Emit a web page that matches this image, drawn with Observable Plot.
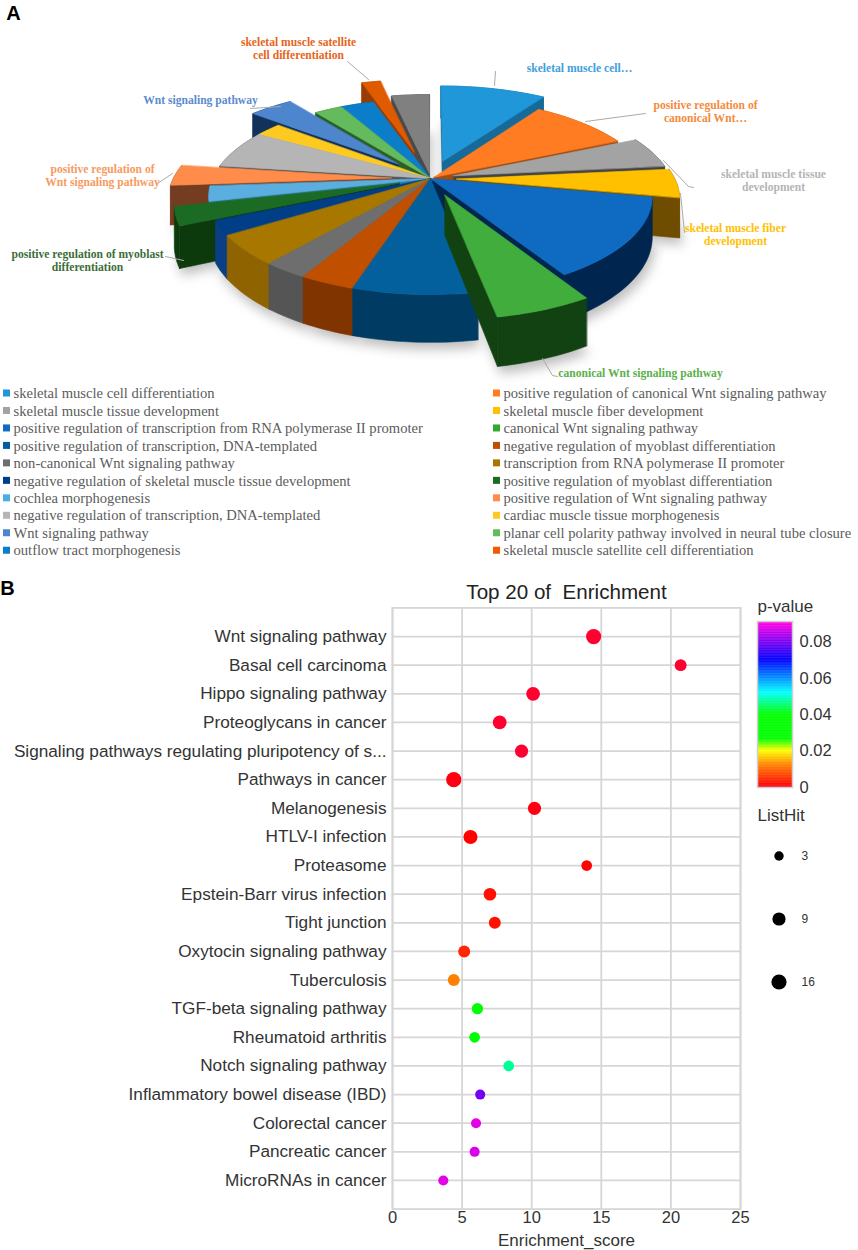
<!DOCTYPE html>
<html><head><meta charset="utf-8">
<script src="https://cdn.jsdelivr.net/npm/d3@7"></script>
<script src="https://cdn.jsdelivr.net/npm/@observablehq/plot@0.6"></script>
<style>
html,body{margin:0;padding:0;background:#fff}
#page{position:relative;width:858px;height:1250px;overflow:hidden}
#page svg{position:absolute;background:transparent;overflow:visible}
</style></head><body><div id="page"></div>
<script>
// ---------- Panel A data ----------
const sliceNames = [
 "skeletal muscle cell differentiation","positive regulation of canonical Wnt signaling pathway",
 "skeletal muscle tissue development","skeletal muscle fiber development",
 "positive regulation of transcription from RNA polymerase II promoter","canonical Wnt signaling pathway",
 "positive regulation of transcription, DNA-templated","negative regulation of myoblast differentiation",
 "non-canonical Wnt signaling pathway","transcription from RNA polymerase II promoter",
 "negative regulation of skeletal muscle tissue development","positive regulation of myoblast differentiation",
 "cochlea morphogenesis","positive regulation of Wnt signaling pathway",
 "negative regulation of transcription, DNA-templated","cardiac muscle tissue morphogenesis",
 "Wnt signaling pathway","planar cell polarity pathway involved in neural tube closure",
 "outflow tract morphogenesis","skeletal muscle satellite cell differentiation","(unlabelled)"];
const sliceShares = [9.4,8.8,5.1,4.7,13.3,5.8,7.6,3.4,2.8,4.9,2.4,3.0,2.5,3.4,6.3,2.3,3.9,2.4,2.9,1.7,3.3];
const sliceExplode = [.2,.02,.11,.12,0,.18,0,0,0,0,0,.15,0,.18,0,0,.22,0,0,.3,.06];
const paintOrder = [0,20,19,18,17,16,15,1,14,2,13,3,12,11,10,4,9,8,7,6,5];
const topColors = ["#1f97d9","#ff7c22","#a3a3a3","#ffc000","#0f6bc2","#41ad3c","#03609c","#c04f00","#6e6e6e","#a87700","#003f88","#1c6b24","#5aaee0","#ff8c4a","#b5b5b5","#ffca1f","#4d86cc","#63bb5e","#0b7dc9","#e05a00","#808080"];
const wallColors = ["#156a99","#a04d10","#444444","#6e4d00","#00264f","#124212","#003b63","#803400","#555555","#8e6300","#0a3f85","#0c3a0c","#2f7fb0","#743c20","#555555","#8a6d00","#12325c","#2a5f28","#054a7a","#9a3c00","#4a4a4a"];
const legendColors = ["#1f97d9","#ff7c22","#a3a3a3","#ffc000","#0f6bc2","#2faa2f","#03609c","#c04f00","#6e6e6e","#a87700","#003f88","#1c6b24","#4aaee0","#ff8c4a","#b5b5b5","#ffca1f","#4d86cc","#63bb5e","#0b7dc9","#f05a00"];

const callouts = [
 {t:"skeletal muscle satellite\ncell differentiation",c:"#e8641a",x:298,y:47.5,l:[[347,61],[368,79]]},
 {t:"skeletal muscle cell…",c:"#3ea0dd",x:579,y:67,l:[[495,71],[494,85]]},
 {t:"positive regulation of\ncanonical Wnt…",c:"#f58a3c",x:705,y:110.5,l:[[645,113],[585,121]]},
 {t:"skeletal muscle tissue\ndevelopment",c:"#b5b5b5",x:773,y:179.5,l:[[693,187],[688,186],[663,160]]},
 {t:"skeletal muscle fiber\ndevelopment",c:"#ffc000",x:735,y:233.5,l:[[684,232],[680,193]]},
 {t:"canonical Wnt signaling pathway",c:"#5ab04a",x:640,y:372,l:[[557,376],[552,375],[542,358]]},
 {t:"Wnt signaling pathway",c:"#5b8bcf",x:200,y:99,l:[[250,108],[280,106]]},
 {t:"positive regulation of\nWnt signaling pathway",c:"#f79a5e",x:102,y:174.5,l:[[157,183],[172,173]]},
 {t:"positive regulation of myoblast\ndifferentiation",c:"#3c6e38",x:87,y:259.5,l:[[165,256],[183,260]]}
];

// ---------- Panel B data ----------
const terms = ["Wnt signaling pathway","Basal cell carcinoma","Hippo signaling pathway","Proteoglycans in cancer","Signaling pathways regulating pluripotency of s...","Pathways in cancer","Melanogenesis","HTLV-I infection","Proteasome","Epstein-Barr virus infection","Tight junction","Oxytocin signaling pathway","Tuberculosis","TGF-beta signaling pathway","Rheumatoid arthritis","Notch signaling pathway","Inflammatory bowel disease (IBD)","Colorectal cancer","Pancreatic cancer","MicroRNAs in cancer"];
const enrichment = [14.45,20.7,10.1,7.7,9.27,4.4,10.2,5.6,13.95,7,7.35,5.15,4.4,6.1,5.9,8.35,6.3,6,5.9,3.65];
const pValues = [0,0,0,0,0,.0004,.0004,.0008,.001,.002,.002,.004,.012,.03,.036,.047,.079,.088,.087,.088];
const listHits = [16,7,11,11,9,16,9,12,5,8,7,7,7,6,5,5,4,4,4,4];
const xTicks = [0,5,10,15,20,25];
const pTicks = [0,.02,.04,.06,.08];
const hitLegend = [3,9,16];

const colorScale = {type:"linear",domain:[0,.0006,.012,.02,.0265,.04,.052,.07,.09],
  range:["#ff0030","#ff0000","#ff8000","#ffff00","#00ff00","#00ff00","#00ffff","#0000ff","#ff00e6"],clamp:true};
const rScale = {type:"linear",domain:[3,9,16],range:[4.7,6.6,7.6]};
const sans = "Liberation Sans, Arial, sans-serif", serif = "Liberation Serif, Times New Roman, serif";
const page = document.getElementById("page");
function place(el,left,top){el.style.left=left+"px";el.style.top=top+"px";page.appendChild(el);}

// ---------- Pie geometry: slice angles come from the shares ----------
const C={x:430,y:178,R:218,Ry:94.7,p:.184,h:39};
const rad=d=>d*Math.PI/180;
function proj(u,v,down){const k=1/(1-C.p*v);return {x:C.x+C.R*u*k,y:C.y+C.Ry*v*k+(down?C.h*k:0)};}
const total=d3.sum(sliceShares);
let acc=0;
const slices=sliceShares.map((s,i)=>{
  const a0=acc/total*360;acc+=s;const a1=acc/total*360,m=(a0+a1)/2,e=sliceExplode[i],c=-Math.cos(rad(m));
  return {i,a0,a1,m,e,ou:e*Math.sin(rad(m)),ov:e*c};
});
function arc(s){const n=Math.max(3,Math.ceil((s.a1-s.a0)/1.5));
  return d3.range(n+1).map(j=>{const a=rad(s.a0+(s.a1-s.a0)*j/n);return [s.ou+Math.sin(a),s.ov-Math.cos(a)];});}
const pieMarks=[], shadow=[];
const poly=(pts,fill)=>Plot.line(pts,{x:"x",y:"y",fill,stroke:fill,strokeWidth:.6,curve:"linear-closed"});
// a cut face shows only when the slice's top lies above that edge on screen
function faces(tip,corner,inner){
  const [l,r]=tip.x<corner.x?[tip,corner]:[corner,tip];
  if(r.x===l.x) return true;
  return inner.y < l.y+(r.y-l.y)/(r.x-l.x)*(inner.x-l.x);
}
paintOrder.map(i=>slices[i]).forEach(s=>{
  const A=arc(s),tip=[s.ou,s.ov];
  const T=([u,v])=>proj(u,v,false),B=([u,v])=>proj(u,v,true);
  const first=A[0],last=A[A.length-1],mid=T(A[Math.floor(A.length/2)]);
  if(faces(T(tip),T(first),mid)) pieMarks.push(poly([T(tip),T(first),B(first),B(tip)],wallColors[s.i]));
  if(faces(T(tip),T(last),mid)) pieMarks.push(poly([T(tip),T(last),B(last),B(tip)],wallColors[s.i]));
  pieMarks.push(poly([...A.map(T),...A.slice().reverse().map(B)],wallColors[s.i]));
  pieMarks.push(poly([T(tip),...A.map(T)],topColors[s.i]));
  shadow.push(Plot.line([...A.map(B).map(p=>({x:p.x+3,y:p.y+7})),B(tip)],{x:"x",y:"y",fill:"#bdbdbd",imageFilter:"blur(6px)",curve:"linear-closed"}));
});

const legendRows=sliceNames.slice(0,20).map((name,i)=>({name,color:legendColors[i],
  x:i%2?493:3,y:393+Math.floor(i/2)*17.47}));
const leaders=callouts.flatMap((c,i)=>c.l.map(([x,y])=>({x,y,i})));

// ---------- Panel A plot ----------
const plotA=Plot.plot({width:858,height:580,margin:0,
  x:{domain:[0,858],range:[0,858],axis:null},y:{domain:[0,580],range:[0,580],axis:null},
  marks:[
    ...shadow,...pieMarks,
    Plot.line(leaders,{x:"x",y:"y",z:"i",stroke:"#aaaaaa",strokeWidth:1}),
    Plot.text(callouts,{x:"x",y:"y",text:"t",fill:"c",fontFamily:serif,fontWeight:"bold",fontSize:11.6,lineHeight:1.12,stroke:"none"}),
    Plot.rect(legendRows,{x1:"x",x2:d=>d.x+7,y1:d=>d.y-3.5,y2:d=>d.y+3.5,fill:"color"}),
    Plot.text(legendRows,{x:d=>d.x+10,y:"y",text:"name",textAnchor:"start",fill:"#5c5c5c",fontFamily:serif,fontSize:14.6}),
    Plot.text(["A"],{x:13,y:13,text:d=>d,fontFamily:sans,fontWeight:"bold",fontSize:20,fill:"#000"})
  ]});
place(plotA,0,0);

// ---------- Panel B plot ----------
const bubbles=terms.map((term,i)=>({term,x:enrichment[i],p:pValues[i],hits:listHits[i]}));
const grid={stroke:"#d6d6d6",strokeOpacity:1,strokeWidth:1.8};
const plotB=Plot.plot({width:858,height:670,marginLeft:392,marginRight:118,marginTop:27.4,marginBottom:41.4,
  x:{domain:[0,25],ticks:xTicks,label:null},
  y:{type:"point",domain:terms,padding:1,round:false,label:null},
  color:colorScale,r:rScale,
  marks:[
    Plot.gridX(xTicks,grid),
    Plot.gridY(terms,grid),
    Plot.frame(grid),
    Plot.axisY(terms,{tickSize:0,tickPadding:6,fontSize:17.2,fill:"#333",fontFamily:sans,label:null,textOverflow:null,lineWidth:Infinity}),
    Plot.axisX(xTicks,{tickSize:0,tickPadding:2,fontSize:16.5,fill:"#333",fontFamily:sans,label:null,tickFormat:d=>String(d)}),
    Plot.dot(bubbles,{x:"x",y:"term",r:"hits",fill:"p"}),
    Plot.text(["Top 20 of  Enrichment"],{frameAnchor:"top",dy:-15,lineAnchor:"middle",fontFamily:sans,fontSize:20.6,fill:"#222"}),
    Plot.text(["Enrichment_score"],{frameAnchor:"bottom",dy:31,lineAnchor:"middle",fontFamily:sans,fontSize:17,fill:"#333"}),
    Plot.text(["B"],{frameAnchor:"top-left",dx:-385,dy:-19,textAnchor:"middle",lineAnchor:"middle",fontFamily:sans,fontWeight:"bold",fontSize:20,fill:"#000"})
  ]});
place(plotB,0,580);

// ---------- p-value colour bar ----------
const steps=d3.range(0,.0914,.0004);
const plotC=Plot.plot({width:118,height:200,marginLeft:17,marginRight:66,marginTop:26,marginBottom:8,
  x:{domain:[0,1],axis:null},y:{domain:[0,.0914],label:null},color:colorScale,
  marks:[
    Plot.rect(steps,{x1:0,x2:1,y1:d=>d,y2:d=>Math.min(d+.0006,.0914),fill:d=>d}),
    Plot.frame({stroke:"#cfcfcf",strokeWidth:1.5}),
    Plot.axisY(pTicks,{anchor:"right",tickSize:0,tickPadding:7,fontSize:16.5,fill:"#333",fontFamily:sans,label:null,tickFormat:d=>d===0?"0":String(d)}),
    Plot.text(["p-value"],{frameAnchor:"top-left",dy:-15,lineAnchor:"middle",textAnchor:"start",fontFamily:sans,fontSize:17,fill:"#333"})
  ]});
place(plotC,740,595);

// ---------- ListHit size legend ----------
const plotD=Plot.plot({width:118,height:210,marginTop:21,marginBottom:0,marginLeft:0,marginRight:0,
  x:{domain:[0,118],axis:null},y:{type:"point",domain:hitLegend,padding:.5,round:false,axis:null},r:rScale,
  marks:[
    Plot.dot(hitLegend,{x:()=>38.5,y:d=>d,r:d=>d,fill:"#000"}),
    Plot.text(hitLegend,{x:()=>61,y:d=>d,text:d=>String(d),textAnchor:"start",fontFamily:sans,fontSize:12,fill:"#333"}),
    Plot.text(["ListHit"],{frameAnchor:"top-left",dx:17,dy:-9,lineAnchor:"middle",textAnchor:"start",fontFamily:sans,fontSize:17,fill:"#333"})
  ]});
place(plotD,740,803);
</script></body></html>
